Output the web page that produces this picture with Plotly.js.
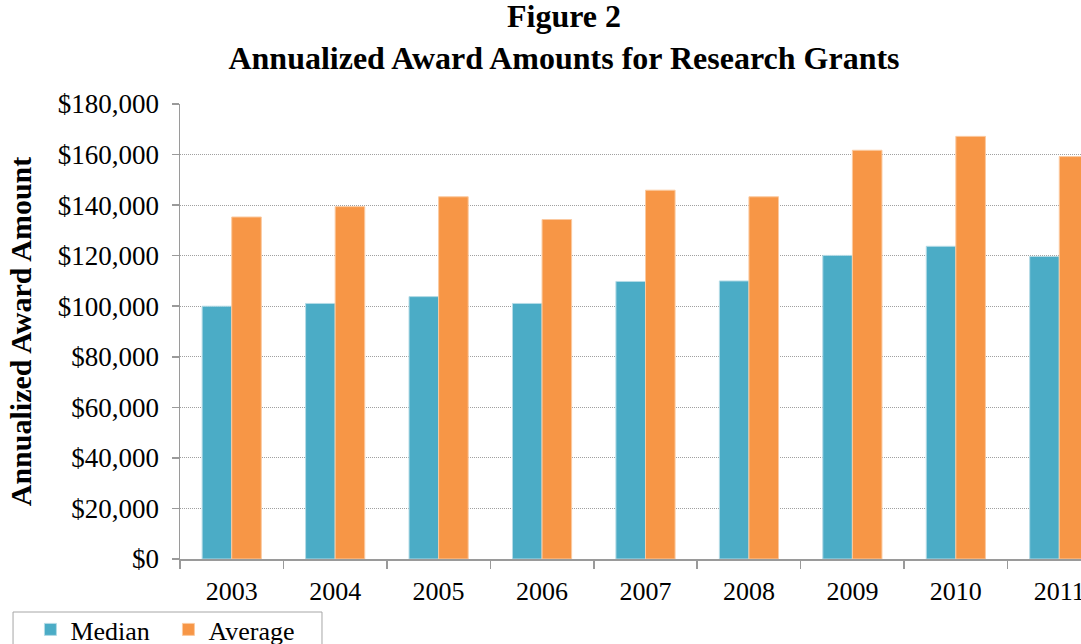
<!DOCTYPE html>
<html>
<head>
<meta charset="utf-8">
<script src="https://cdn.plot.ly/plotly-3.0.1.min.js"></script>
<style>
  html, body { margin: 0; padding: 0; background: #fff; }
  #chart { width: 1081px; height: 644px; }
</style>
</head>
<body>
<div id="chart"></div>
<script>
const years = ['2003', '2004', '2005', '2006', '2007', '2008', '2009', '2010', '2011'];
const medianValues = [100000, 101100, 103800, 101100, 109800, 110000, 120100, 123700, 119700];
const averageValues = [135300, 139400, 143300, 134300, 145900, 143300, 161700, 167200, 159200];
const yTickValues = [0, 20000, 40000, 60000, 80000, 100000, 120000, 140000, 160000, 180000];
const yTickLabels = ['$0', '$20,000', '$40,000', '$60,000', '$80,000', '$100,000', '$120,000', '$140,000', '$160,000', '$180,000'];

const serif = '"Liberation Serif", "Times New Roman", Times, serif';

const traces = [
  {
    type: 'bar', name: 'Median', x: years, y: medianValues,
    marker: { color: '#4BACC6', line: { color: '#b4dbe6', width: 1 } },
    hoverinfo: 'skip'
  },
  {
    type: 'bar', name: 'Average', x: years, y: averageValues,
    marker: { color: '#F79646', line: { color: '#fbcaa0', width: 1 } },
    hoverinfo: 'skip'
  }
];

const layout = {
  width: 1081, height: 644,
  paper_bgcolor: '#ffffff', plot_bgcolor: '#ffffff',
  margin: { l: 180, r: 0, t: 104, b: 85, autoexpand: false },
  font: { family: serif, color: '#000000', size: 26 },
  title: {
    text: '<b>Figure 2</b><br><b>Annualized Award Amounts for Research Grants</b>',
    font: { family: serif, size: 32, color: '#000000' },
    x: 564 / 1081, xref: 'container', xanchor: 'center',
    y: 0.958, yref: 'container', yanchor: 'top'
  },
  barmode: 'group', bargap: 0.428, bargroupgap: 0,
  showlegend: true,
  legend: {
    orientation: 'h', x: -0.166, y: -0.1033, xanchor: 'left', yanchor: 'top',
    xref: 'paper', yref: 'paper',
    borderwidth: 0, bgcolor: 'rgba(0,0,0,0)',
    font: { family: serif, size: 26, color: '#000000' },
    itemwidth: 30, traceorder: 'normal',
    entrywidth: 93, entrywidthmode: 'pixels'
  },
  shapes: [
    {
      type: 'rect', xref: 'paper', yref: 'paper', layer: 'above',
      x0: -0.1853, x1: 0.1576, y0: -0.1165, y1: -0.22,
      line: { color: '#a6a6a6', width: 1 }, fillcolor: 'rgba(0,0,0,0)'
    }
  ],
  xaxis: {
    type: 'category', range: [-0.5, 8.21], automargin: false,
    showline: true, linecolor: '#9a9a9a', linewidth: 1.5,
    ticks: 'outside', tickson: 'boundaries', ticklen: 8, tickcolor: '#9a9a9a', tickwidth: 1.5,
    ticklabelstandoff: 8,
    showgrid: false, zeroline: false,
    tickfont: { family: serif, size: 26, color: '#000000' }
  },
  yaxis: {
    range: [0, 180000], automargin: false,
    tickvals: yTickValues, ticktext: yTickLabels,
    showline: true, linecolor: '#9a9a9a', linewidth: 1.5,
    ticks: 'outside', ticklen: 7, tickcolor: '#9a9a9a', tickwidth: 1.5,
    ticklabelstandoff: 7,
    showgrid: true, gridcolor: '#a0a0a0', griddash: '1px,1px', gridwidth: 1,
    zeroline: false,
    tickfont: { family: serif, size: 27, color: '#000000' },
    title: {
      text: '<b>Annualized Award Amount</b>',
      font: { family: serif, size: 30, color: '#000000' },
      standoff: 17
    }
  }
};

Plotly.newPlot('chart', traces, layout, { displayModeBar: false, staticPlot: true });
</script>
</body>
</html>
